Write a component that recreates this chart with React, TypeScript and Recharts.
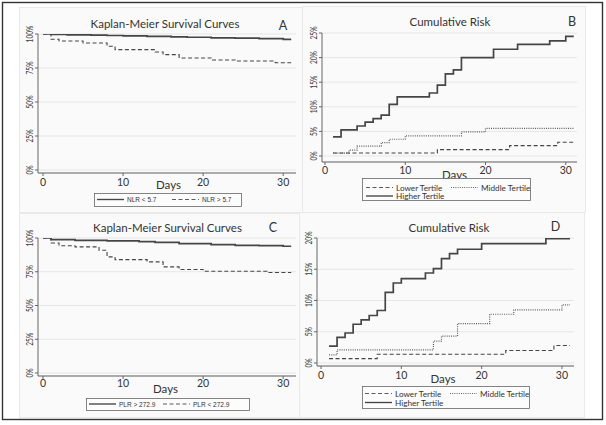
import React from "react";
import { CartesianGrid, Line, LineChart, XAxis, YAxis } from "recharts";

/**
 * Four-panel figure: Kaplan-Meier survival (A, C) and cumulative risk by
 * tertile (B, D). Stata-like look: light panels, rotated y labels, step lines.
 */

const FONT = "Lato, 'Open Sans', sans-serif";
const SMALL_FONT = "'Liberation Sans', Arial, sans-serif";

// --- Panel A: survival by NLR ---
const nlrBelowDays = [0, 1, 3, 6, 8, 10, 13, 16, 18, 21, 24, 27, 30, 31];
const nlrBelowSurv = [100, 99.7, 99.4, 99.2, 98.9, 98.6, 98.2, 97.9, 97.6, 97.2, 96.9, 96.6, 96.1, 96.1];
const nlrAboveDays = [0, 1, 2, 5, 8, 9, 14, 15, 17, 21, 24, 29, 31];
const nlrAboveSurv = [100, 96.1, 94.8, 93.4, 91.0, 88.5, 86.8, 84.8, 82.4, 80.9, 80.1, 78.9, 78.9];

// --- Panel B: cumulative risk by NLR tertile ---
const bLowerDays = [1, 14, 23, 29, 31];
const bLowerRisk = [0.6, 1.3, 2.1, 2.8, 2.8];
const bMiddleDays = [1, 3, 4, 7, 8, 10, 17, 20, 31];
const bMiddleRisk = [0.6, 1.2, 2.0, 2.7, 3.4, 4.1, 4.9, 5.6, 5.6];
const bHigherDays = [1, 2, 4, 5, 6, 7, 8, 9, 13, 14, 15, 16, 17, 21, 24, 28, 30, 31];
const bHigherRisk = [3.9, 5.3, 6.1, 6.9, 7.6, 8.3, 10.5, 12.0, 12.8, 14.4, 16.7, 17.5, 20.0, 21.7, 22.7, 23.4, 24.3, 24.3];

// --- Panel C: survival by PLR ---
const plrAboveDays = [0, 1, 4, 8, 12, 14, 17, 21, 24, 27, 30, 31];
const plrAboveSurv = [100, 98.8, 98.3, 97.8, 97.3, 96.8, 95.9, 95.1, 94.6, 94.3, 93.9, 93.9];
const plrBelowDays = [0, 1, 2, 4, 7, 8, 9, 13, 15, 17, 20, 28, 31];
const plrBelowSurv = [100, 96.3, 94.3, 93.4, 90.9, 86.0, 84.0, 82.3, 78.6, 76.7, 75.4, 74.4, 74.4];

// --- Panel D: cumulative risk by PLR tertile ---
const dLowerDays = [1, 7, 23, 29, 31];
const dLowerRisk = [0.7, 1.4, 2.0, 2.8, 2.8];
const dMiddleDays = [1, 2, 14, 15, 17, 21, 24, 30, 31];
const dMiddleRisk = [1.3, 2.1, 3.5, 4.3, 6.3, 7.8, 8.5, 9.3, 9.3];
const dHigherDays = [1, 2, 3, 4, 5, 6, 7, 8, 9, 10, 13, 14, 15, 16, 17, 20, 28, 31];
const dHigherRisk = [2.7, 4.1, 4.8, 6.2, 6.9, 7.6, 8.4, 11.3, 12.8, 13.5, 14.4, 15.1, 16.7, 17.5, 18.2, 19.1, 19.9, 19.9];

const dayTicks = [0, 10, 20, 30];
const survTicks = [0, 25, 50, 75, 100];
const riskTicksB = [0, 5, 10, 15, 20, 25];
const riskTicksD = [0, 5, 10, 15, 20];

type Pt = { day: number; v: number };
const toPoints = (days: number[], vals: number[]): Pt[] =>
  days.map((d, i) => ({ day: d, v: vals[i] }));

type LineKind = "solid" | "dashed" | "dotted";
const LINE_STYLE: Record<LineKind, { stroke: string; width: number; dash?: string }> = {
  solid: { stroke: "#454545", width: 1.7 },
  dashed: { stroke: "#454545", width: 1.1, dash: "4 2.5" },
  dotted: { stroke: "#5f5f5f", width: 1.2, dash: "1 1.2" },
};

type Series = { name: string; data: Pt[]; kind: LineKind };

type LegendItem = { series: Series; x: number; y: number };

type PanelDef = {
  box: { x: number; y: number; w: number; h: number };
  plot: { left: number; right: number; top: number; bottom: number };
  xMax: number;
  xPad: number;
  yMax: number;
  yTicks: number[];
  yPad: number;
  xTickMargin: number;
  series: Series[];
  title: string;
  titlePos: [number, number];
  letter: string;
  letterPos: [number, number];
  daysPos: [number, number];
  legendBox: { x: number; y: number; w: number; h: number };
  legendItems: LegendItem[];
  legendFont: string;
  legendSize: number;
};

const nlrBelow: Series = { name: "NLR < 5.7", data: toPoints(nlrBelowDays, nlrBelowSurv), kind: "solid" };
const nlrAbove: Series = { name: "NLR > 5.7", data: toPoints(nlrAboveDays, nlrAboveSurv), kind: "dashed" };
const bLower: Series = { name: "Lower Tertile", data: toPoints(bLowerDays, bLowerRisk), kind: "dashed" };
const bMiddle: Series = { name: "Middle Tertile", data: toPoints(bMiddleDays, bMiddleRisk), kind: "dotted" };
const bHigher: Series = { name: "Higher Tertile", data: toPoints(bHigherDays, bHigherRisk), kind: "solid" };
const plrAbove: Series = { name: "PLR > 272.9", data: toPoints(plrAboveDays, plrAboveSurv), kind: "solid" };
const plrBelow: Series = { name: "PLR < 272.9", data: toPoints(plrBelowDays, plrBelowSurv), kind: "dashed" };
const dLower: Series = { name: "Lower Tertile", data: toPoints(dLowerDays, dLowerRisk), kind: "dashed" };
const dMiddle: Series = { name: "Middle Tertile", data: toPoints(dMiddleDays, dMiddleRisk), kind: "dotted" };
const dHigher: Series = { name: "Higher Tertile", data: toPoints(dHigherDays, dHigherRisk), kind: "solid" };

const PANELS: PanelDef[] = [
  {
    box: { x: 20, y: 8, w: 282, h: 204 },
    plot: { left: 38, right: 296, top: 34, bottom: 173 },
    xMax: 31.6, xPad: 5, yMax: 100, yTicks: survTicks, yPad: 3, xTickMargin: 2.5,
    series: [nlrBelow, nlrAbove],
    title: "Kaplan-Meier Survival Curves", titlePos: [165, 23.5],
    letter: "A", letterPos: [283, 25.5],
    daysPos: [168.5, 184],
    legendBox: { x: 94, y: 193, w: 147, h: 13 },
    legendItems: [
      { series: nlrBelow, x: 97, y: 199.5 },
      { series: nlrAbove, x: 172, y: 199.5 },
    ],
    legendFont: SMALL_FONT, legendSize: 6.5,
  },
  {
    box: { x: 303, y: 7, w: 282, h: 205 },
    plot: { left: 322, right: 577, top: 33, bottom: 162 },
    xMax: 31.4, xPad: 3, yMax: 25, yTicks: riskTicksB, yPad: 6, xTickMargin: 2,
    series: [bLower, bMiddle, bHigher],
    title: "Cumulative Risk", titlePos: [450, 21.5],
    letter: "B", letterPos: [572, 21.5],
    daysPos: [454.5, 174],
    legendBox: { x: 362, y: 178, w: 168, h: 22 },
    legendItems: [
      { series: bLower, x: 366, y: 187.5 },
      { series: bMiddle, x: 451, y: 187.5 },
      { series: bHigher, x: 366, y: 196 },
    ],
    legendFont: FONT, legendSize: 8.2,
  },
  {
    box: { x: 20, y: 214, w: 280, h: 203 },
    plot: { left: 38, right: 296, top: 238, bottom: 376 },
    xMax: 31.6, xPad: 5, yMax: 100, yTicks: survTicks, yPad: 3, xTickMargin: 1,
    series: [plrAbove, plrBelow],
    title: "Kaplan-Meier Survival Curves", titlePos: [167.5, 227.5],
    letter: "C", letterPos: [273, 227.5],
    daysPos: [165.5, 388],
    legendBox: { x: 86, y: 398, w: 163, h: 12 },
    legendItems: [
      { series: plrAbove, x: 89, y: 404 },
      { series: plrBelow, x: 163, y: 404 },
    ],
    legendFont: SMALL_FONT, legendSize: 6.5,
  },
  {
    box: { x: 300, y: 213, w: 284, h: 204 },
    plot: { left: 317, right: 574, top: 238, bottom: 366 },
    xMax: 31.5, xPad: 4, yMax: 20, yTicks: riskTicksD, yPad: 3, xTickMargin: 2.8,
    series: [dLower, dMiddle, dHigher],
    title: "Cumulative Risk", titlePos: [449, 227.5],
    letter: "D", letterPos: [555.5, 226],
    daysPos: [443, 378.5],
    legendBox: { x: 362, y: 386, w: 167, h: 22 },
    legendItems: [
      { series: dLower, x: 365, y: 393.5 },
      { series: dMiddle, x: 450, y: 393.5 },
      { series: dHigher, x: 365, y: 402.5 },
    ],
    legendFont: FONT, legendSize: 8.2,
  },
];

// rotated, narrow y tick label (Stata style)
function RotatedTick(props: any) {
  const { x, y, payload } = props;
  return (
    <text
      transform={`translate(${x},${y}) rotate(-90) scale(0.66,1)`}
      textAnchor="middle"
      fontSize={10}
      fill="#3c3c3c"
      fontFamily={FONT}
    >
      {`${payload.value}%`}
    </text>
  );
}

function Panel({ p }: { p: PanelDef }) {
  const { box, plot } = p;
  return (
    <div
      style={{
        position: "absolute",
        left: box.x,
        top: box.y,
        width: box.w,
        height: box.h,
        background: "#fafafa",
        outline: "1px solid #e9e9e9",
      }}
    >
      <LineChart
        width={box.w}
        height={box.h}
        margin={{ top: plot.top - box.y, right: box.x + box.w - plot.right, bottom: 0, left: 0 }}
      >
        <CartesianGrid vertical={false} stroke="#e6e6e6" />
        <XAxis
          type="number"
          dataKey="day"
          domain={[0, p.xMax]}
          ticks={dayTicks}
          padding={{ left: p.xPad, right: 0 }}
          height={box.y + box.h - plot.bottom}
          tickSize={3}
          tickMargin={p.xTickMargin}
          stroke="#666"
          tick={{ fill: "#333", fontSize: 10.5, fontFamily: FONT }}
          allowDataOverflow
        />
        <YAxis
          type="number"
          domain={[0, p.yMax]}
          ticks={p.yTicks}
          width={plot.left - box.x}
          padding={{ top: 0, bottom: p.yPad }}
          tickSize={3}
          tickMargin={2}
          stroke="#666"
          tick={(tp: any) => <RotatedTick {...tp} />}
          allowDataOverflow
        />
        {p.series.map((s) => {
          const st = LINE_STYLE[s.kind];
          return (
            <Line
              key={s.name}
              data={s.data}
              dataKey="v"
              name={s.name}
              type="stepAfter"
              stroke={st.stroke}
              strokeWidth={st.width}
              strokeDasharray={st.dash}
              dot={false}
              activeDot={false}
              isAnimationActive={false}
            />
          );
        })}
      </LineChart>
    </div>
  );
}

function Overlay() {
  return (
    <svg
      width={606}
      height={425}
      style={{ position: "absolute", left: 0, top: 0, pointerEvents: "none" }}
    >
      <rect x={2.5} y={2.5} width={600} height={417} fill="none" stroke="#333" strokeWidth={1.4} />
      {PANELS.map((p) => (
        <g key={p.letter}>
          <text x={p.titlePos[0]} y={p.titlePos[1]} textAnchor="middle" dominantBaseline="central"
            fontFamily={FONT} fontSize={11.5} fill="#333">{p.title}</text>
          <text x={p.letterPos[0]} y={p.letterPos[1]} textAnchor="middle" dominantBaseline="central"
            fontFamily={FONT} fontSize={12.5} fill="#333">{p.letter}</text>
          <text x={p.daysPos[0]} y={p.daysPos[1]} textAnchor="middle" dominantBaseline="central"
            fontFamily={FONT} fontSize={11.5} fill="#333">Days</text>
          <rect x={p.legendBox.x + 0.5} y={p.legendBox.y + 0.5} width={p.legendBox.w} height={p.legendBox.h}
            fill="#fcfcfc" stroke="#666" strokeWidth={0.8} />
          {p.legendItems.map((it) => {
            const st = LINE_STYLE[it.series.kind];
            return (
              <g key={it.series.name}>
                <line x1={it.x} x2={it.x + 27} y1={it.y} y2={it.y} stroke={st.stroke}
                  strokeWidth={st.width * 0.8} strokeDasharray={st.dash} />
                <text x={it.x + 30} y={it.y} dominantBaseline="central" fontFamily={p.legendFont}
                  fontSize={p.legendSize} fill="#333">{it.series.name}</text>
              </g>
            );
          })}
        </g>
      ))}
    </svg>
  );
}

export default function App() {
  return (
    <div
      style={{
        position: "absolute",
        left: 0,
        top: 0,
        width: 606,
        height: 425,
        background: "#fff",
        overflow: "hidden",
      }}
    >
      {PANELS.map((p) => (
        <Panel key={p.letter} p={p} />
      ))}
      <Overlay />
    </div>
  );
}
